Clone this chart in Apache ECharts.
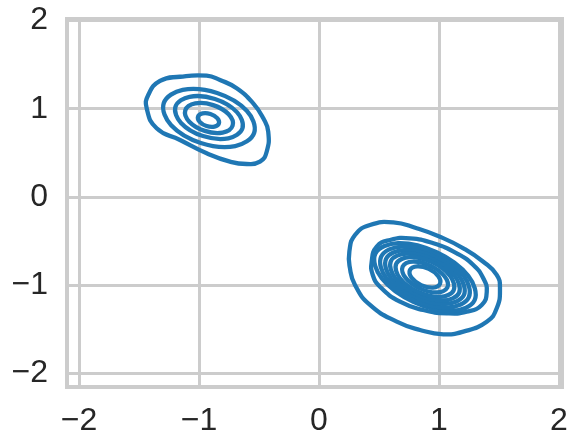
<!DOCTYPE html>
<html>
<head>
<meta charset="utf-8">
<script src="https://cdn.jsdelivr.net/npm/echarts@6/dist/echarts.min.js"></script>
<style>html,body{margin:0;padding:0;background:#fff}#c{width:578px;height:448px}</style>
</head>
<body>
<div id="c"></div>
<script>
// Tick values
const xTicks = [-2, -1, 0, 1, 2];
const yTicks = [-2, -1, 0, 1, 2];

// Upper-left cluster contours (outer -> inner), [x, y] in data units
const a1 = [[-1.436,1.005],[-1.423,1.155],[-1.325,1.314],[-1.158,1.362],[-0.936,1.374],[-0.825,1.325],[-0.686,1.231],[-0.548,1.061],[-0.464,0.891],[-0.423,0.740],[-0.436,0.513],[-0.492,0.400],[-0.603,0.374],[-0.742,0.400],[-0.936,0.495],[-1.158,0.646],[-1.353,0.778]];
const a2 = [[-0.540,0.728],[-0.698,0.577],[-0.985,0.612],[-1.232,0.813],[-1.294,1.062],[-1.136,1.213],[-0.849,1.178],[-0.602,0.977]];
const a3 = [[-0.638,0.777],[-0.755,0.665],[-0.967,0.690],[-1.150,0.839],[-1.196,1.023],[-1.079,1.135],[-0.867,1.110],[-0.684,0.961]];
const a4 = [[-0.720,0.808],[-0.803,0.730],[-0.952,0.749],[-1.081,0.853],[-1.114,0.982],[-1.031,1.060],[-0.882,1.041],[-0.753,0.937]];
const a5 = [[-0.834,0.834],[-0.871,0.797],[-0.937,0.804],[-0.994,0.851],[-1.008,0.911],[-0.971,0.947],[-0.905,0.940],[-0.848,0.893]];

// Lower-right cluster contours (outer -> inner)
const b1 = [[0.253,-0.619],[0.300,-0.430],[0.425,-0.317],[0.619,-0.287],[0.814,-0.354],[1.008,-0.450],[1.203,-0.581],[1.369,-0.733],[1.481,-0.883],[1.508,-1.034],[1.481,-1.260],[1.398,-1.412],[1.203,-1.525],[1.036,-1.555],[0.842,-1.506],[0.648,-1.412],[0.425,-1.223],[0.300,-0.997],[0.258,-0.807]];
const b2 = [[0.439,-0.733],[0.481,-0.563],[0.592,-0.487],[0.758,-0.468],[0.953,-0.524],[1.148,-0.638],[1.286,-0.770],[1.369,-0.921],[1.398,-1.072],[1.356,-1.223],[1.231,-1.299],[1.064,-1.318],[0.869,-1.280],[0.675,-1.186],[0.508,-1.016],[0.448,-0.883]];
const b3 = [[1.297,-1.169],[1.108,-1.291],[0.786,-1.187],[0.522,-0.919],[0.469,-0.644],[0.659,-0.522],[0.980,-0.625],[1.244,-0.893]];
const b4 = [[1.248,-1.137],[1.079,-1.251],[0.795,-1.163],[0.563,-0.924],[0.518,-0.675],[0.687,-0.561],[0.971,-0.650],[1.203,-0.888]];
const b5 = [[1.207,-1.112],[1.057,-1.211],[0.805,-1.132],[0.599,-0.920],[0.559,-0.700],[0.709,-0.601],[0.961,-0.680],[1.167,-0.892]];
const b6 = [[1.167,-1.086],[1.036,-1.172],[0.816,-1.102],[0.635,-0.917],[0.599,-0.726],[0.730,-0.640],[0.950,-0.710],[1.131,-0.895]];
const b7 = [[1.122,-1.057],[1.011,-1.132],[0.825,-1.074],[0.673,-0.918],[0.644,-0.755],[0.755,-0.680],[0.941,-0.738],[1.093,-0.894]];
const b8 = [[1.070,-1.024],[0.984,-1.081],[0.839,-1.035],[0.720,-0.914],[0.697,-0.788],[0.783,-0.731],[0.927,-0.777],[1.046,-0.898]];
const b9 = [[1.008,-0.985],[0.949,-1.027],[0.851,-0.998],[0.772,-0.916],[0.758,-0.827],[0.817,-0.785],[0.915,-0.814],[0.994,-0.896]];

const rings = [a1, a2, a3, a4, a5, b1, b2, b3, b4, b5, b6, b7, b8, b9];

const LINE = '#1f77b4';
const GRID = '#cccccc';
const TEXT = '#262626';
const FONT = "'Liberation Sans', Arial, sans-serif";
const fmt = v => (v < 0 ? '\u2212' + Math.abs(v) : String(v));

function ringSeries(pts) {
  return {
    type: 'custom',
    coordinateSystem: 'cartesian2d',
    data: pts,
    encode: { x: 0, y: 1 },
    silent: true,
    animation: false,
    clip: false,
    z: 5,
    renderItem: function (params, api) {
      if (params.dataIndex !== 0) return null;
      const coords = pts.map(p => api.coord(p));
      return {
        type: 'polygon',
        shape: { points: coords, smooth: pts.length > 8 ? 0.5 : 0.38 },
        style: { fill: 'none', stroke: LINE, lineWidth: 4.3, lineJoin: 'round' }
      };
    }
  };
}

const chart = echarts.init(document.getElementById('c'), null, { renderer: 'canvas' });
chart.setOption({
  backgroundColor: '#ffffff',
  animation: false,
  grid: {
    left: 67, right: 16, top: 19, bottom: 61,
    show: true, borderColor: GRID, borderWidth: 4, backgroundColor: 'transparent'
  },
  xAxis: {
    type: 'value', min: -2.1, max: 2.025,
    axisLine: { show: false },
    axisTick: { show: false, customValues: xTicks },
    axisLabel: { customValues: xTicks, formatter: fmt, fontSize: 32, color: TEXT, fontFamily: FONT, margin: 18 },
    splitLine: { show: true, lineStyle: { color: GRID, width: 3 } }
  },
  yAxis: {
    type: 'value', min: -2.152, max: 2.016,
    axisLine: { show: false },
    axisTick: { show: false, customValues: yTicks },
    axisLabel: { customValues: yTicks, formatter: fmt, fontSize: 32, color: TEXT, fontFamily: FONT, margin: 19 },
    splitLine: { show: true, lineStyle: { color: GRID, width: 3 } }
  },
  series: rings.map(ringSeries)
});
</script>
</body>
</html>
